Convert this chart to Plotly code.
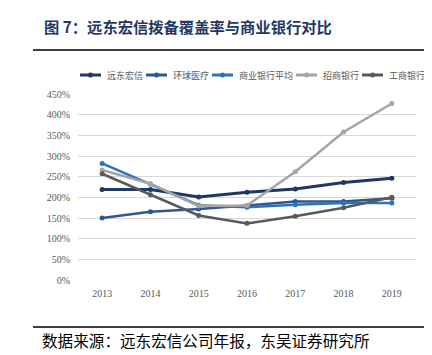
import plotly.graph_objects as go

years = ["2013", "2014", "2015", "2016", "2017", "2018", "2019"]
series_names = ["远东宏信", "环球医疗", "商业银行平均", "招商银行", "工商银行"]
fe_horizon = [219, 219, 201, 212, 220, 236, 246]
universal_medical = [150, 165, 172, 180, 190, 190, 198]
bank_average = [282, 232, 181, 176, 182, 186, 186]
cmb = [266, 233, 179, 180, 262, 358, 427]
icbc = [257, 206, 156, 137, 154, 175, 200]
y_ticks = [0, 50, 100, 150, 200, 250, 300, 350, 400, 450]

values = [fe_horizon, universal_medical, bank_average, cmb, icbc]
colors = ["#1F3864", "#2F5597", "#2E75B6", "#A5A5A5", "#595959"]
widths = [3, 2.5, 2.5, 2.5, 2.5]

W, H = 432, 355
L, R, T, B = 70, 24, 86, 83
PW, PH = W - L - R, H - T - B

def px(x):
    return (x - L) / PW

def py(y):
    return (H - B - y) / PH

fig = go.Figure()
for name, vals, c, w in zip(series_names, values, colors, widths):
    fig.add_trace(go.Scatter(
        x=years, y=vals, name=name, mode="lines+markers",
        line=dict(color=c, width=w),
        marker=dict(color=c, size=5),
        showlegend=False,
    ))

cjk = "Noto Sans CJK SC"
serif = "Liberation Serif"
shapes = []
annotations = []

# custom legend
fs = 9
x = 72
ly = 67
for name, c in zip(series_names, colors):
    shapes.append(dict(type="line", xref="paper", yref="paper",
                       x0=px(x), x1=px(x + 21), y0=py(ly), y1=py(ly),
                       line=dict(color=c, width=3)))
    shapes.append(dict(type="circle", xref="paper", yref="paper",
                       x0=px(x + 8), x1=px(x + 13), y0=py(ly - 2.5), y1=py(ly + 2.5),
                       line=dict(color=c, width=0), fillcolor=c))
    tx = x + 25
    annotations.append(dict(text=name, xref="paper", yref="paper", x=px(tx), y=py(ly),
                            xanchor="left", yanchor="middle", showarrow=False,
                            font=dict(family=cjk, size=fs, color="#595959")))
    x = tx + fs * len(name) + 5

# title and rules
annotations.append(dict(text="<b>图 7：远东宏信拨备覆盖率与商业银行对比</b>", xref="paper", yref="paper",
                        x=px(34), y=py(18), xanchor="left", yanchor="middle", showarrow=False,
                        font=dict(family=cjk, size=15.3, color="#1F3864")))
annotations.append(dict(text="数据来源：远东宏信公司年报，东吴证券研究所", xref="paper", yref="paper",
                        x=px(32), y=py(332), xanchor="left", yanchor="middle", showarrow=False,
                        font=dict(family=cjk, size=15.6, color="#000000")))
shapes.append(dict(type="line", xref="paper", yref="paper", x0=px(25), x1=px(428),
                   y0=py(42), y1=py(42), line=dict(color="#000000", width=1.5)))
shapes.append(dict(type="line", xref="paper", yref="paper", x0=px(25), x1=px(428),
                   y0=py(319), y1=py(319), line=dict(color="#000000", width=1.5)))

fig.update_layout(
    width=W, height=H,
    margin=dict(l=L, r=R, t=T, b=B),
    paper_bgcolor="white", plot_bgcolor="white",
    shapes=shapes, annotations=annotations,
    showlegend=False,
    xaxis=dict(type="category", range=[-0.5, 6.5], showgrid=False, zeroline=False,
               showline=False, ticks="", ticklabelstandoff=6,
               tickfont=dict(family=serif, size=10, color="#595959")),
    yaxis=dict(range=[0, 450], tickvals=y_ticks, ticktext=[f"{v}%" for v in y_ticks],
               showgrid=True, gridcolor="#D9D9D9", gridwidth=1, zeroline=False,
               showline=False, ticks="", ticklabelstandoff=7,
               tickfont=dict(family=serif, size=10, color="#595959")),
)

fig.write_html("out.html")
